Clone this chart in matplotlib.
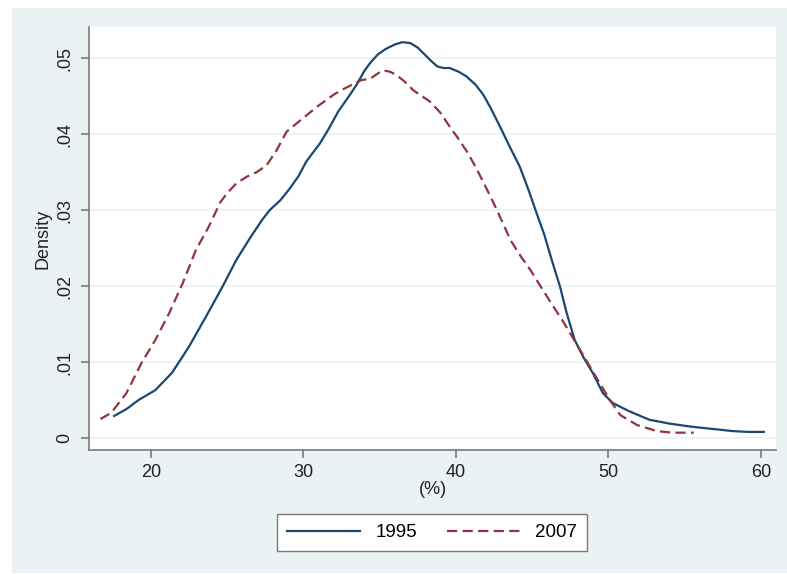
import matplotlib
matplotlib.use("Agg")
import matplotlib.pyplot as plt
from matplotlib.patches import Rectangle

plt.rcParams['font.family'] = ['Liberation Sans', 'DejaVu Sans']

# --- kernel density curves ---
x_1995 = [17.6, 18.4, 19.2, 20.3, 21.4, 22.5, 23.6, 24.7, 25.6, 26.5, 27.3, 27.8,
          28.5, 29.1, 29.7, 30.2, 31.1, 31.7, 32.3, 33.0, 33.5, 34.0, 34.4, 34.9,
          35.4, 36.0, 36.5, 37.0, 37.5, 37.9, 38.4, 38.8, 39.2, 39.6, 40.2, 40.7,
          41.3, 41.8, 42.3, 42.9, 43.5, 44.2, 44.8, 45.3, 45.8, 46.3, 46.84, 47.28,
          47.8, 48.35, 49.0, 49.65, 50.3, 51.4, 52.7, 54.0, 55.4, 56.8, 58.2, 59.2, 60.2]
y_1995 = [0.0029, 0.0038, 0.0050, 0.0063, 0.0086, 0.0120, 0.0159, 0.0199, 0.0234, 0.0263,
          0.0287, 0.0300, 0.0313, 0.0328, 0.0345, 0.0364, 0.0388, 0.0408, 0.0430, 0.0450,
          0.0465, 0.0483, 0.0494, 0.0505, 0.0512, 0.0518, 0.0521, 0.0520, 0.0514, 0.0506,
          0.0496, 0.0489, 0.0487, 0.0487, 0.0482, 0.0476, 0.0465, 0.0452, 0.0434, 0.0410,
          0.0385, 0.0357, 0.0325, 0.0296, 0.0268, 0.0234, 0.0199, 0.0164, 0.0129, 0.0107,
          0.0085, 0.0059, 0.0046, 0.0035, 0.0024, 0.0019, 0.0015, 0.0012, 0.0009, 0.0008, 0.0008]

x_2007 = [16.7, 17.4, 18.4, 19.4, 20.3, 21.2, 22.1, 22.95, 23.8, 24.55, 25.0, 25.6,
          26.3, 26.95, 27.6, 28.26, 28.9, 29.8, 30.9, 32.0, 32.6, 33.3, 33.8, 34.4,
          34.9, 35.25, 35.7, 36.1, 36.6, 37.2, 37.7, 38.3, 39.0, 39.6, 40.1, 40.8,
          41.4, 42.1, 42.7, 43.6, 44.3, 44.9, 45.8, 46.5, 47.05, 48.15, 49.0, 50.1,
          50.8, 51.9, 53.2, 54.2, 55.6]
y_2007 = [0.0025, 0.0033, 0.0059, 0.0099, 0.0129, 0.0164, 0.0204, 0.0247, 0.0278, 0.0310,
          0.0322, 0.0335, 0.0344, 0.0350, 0.0359, 0.0379, 0.0403, 0.0418, 0.0436, 0.0452,
          0.0459, 0.0466, 0.0471, 0.0473, 0.0480, 0.0484, 0.0482, 0.0478, 0.0470, 0.0458,
          0.0451, 0.0443, 0.0428, 0.0410, 0.0396, 0.0375, 0.0353, 0.0325, 0.0300, 0.0260,
          0.0238, 0.0221, 0.0192, 0.0170, 0.0153, 0.0116, 0.0087, 0.0050, 0.0030, 0.0017,
          0.0009, 0.0007, 0.0007]

x_ticks = [20, 30, 40, 50, 60]
y_ticks = [0, 0.01, 0.02, 0.03, 0.04, 0.05]
y_tick_labels = ['0', '.01', '.02', '.03', '.04', '.05']

navy = '#1a476f'
maroon = '#90353b'
bg = '#eaf2f3'
axis_gray = '#7a7a7a'
txt = '#222222'

fig = plt.figure(figsize=(7.87, 5.74), dpi=100)
fig.patch.set_facecolor('white')
# stata-like outer panel, kept behind the axes
fig.patches.append(Rectangle((12 / 787, 1 - 573 / 574), 1 - 12 / 787, (573 - 8) / 574,
                             transform=fig.transFigure, facecolor=bg, edgecolor='none', zorder=-5))

ax = fig.add_axes([89 / 787, 1 - 450 / 574, (776 - 89) / 787, (450 - 27) / 574])
ax.set_facecolor('white')

ax.plot(x_1995, y_1995, color=navy, lw=1.6, label='1995')
ax.plot(x_2007, y_2007, color=maroon, lw=1.6, dashes=(4.6, 2.4), label='2007')

ax.set_xlim(15.95, 61.0)
ax.set_ylim(-0.00158, 0.0541)
ax.set_xticks(x_ticks)
ax.set_yticks(y_ticks)
ax.set_yticklabels(y_tick_labels, rotation=90, va='center')

ax.grid(axis='y', color=bg, lw=1.2)
ax.set_axisbelow(True)

for s in ['top', 'right']:
    ax.spines[s].set_visible(False)
for s in ['left', 'bottom']:
    ax.spines[s].set_color(axis_gray)
    ax.spines[s].set_linewidth(1.2)
ax.tick_params(colors=axis_gray, length=6, width=1.2, labelsize=13, labelcolor=txt)
ax.tick_params(axis='x', pad=4)
ax.tick_params(axis='y', pad=5)

ax.set_xlabel('(%)', fontsize=13, color=txt, labelpad=0)
ax.set_ylabel('Density', fontsize=13, color=txt, labelpad=4)

leg = fig.legend(loc='center', bbox_to_anchor=(432 / 787, 1 - 532.5 / 574), ncol=2,
                 fontsize=13.5, frameon=True, fancybox=False, handlelength=3.9,
                 handletextpad=0.8, columnspacing=1.6, borderpad=0.55)
leg.get_frame().set_edgecolor(axis_gray)
leg.get_frame().set_linewidth(1.0)
leg.get_frame().set_facecolor('white')
leg.get_frame().set_alpha(1)

fig.savefig('out.png', dpi=100)
